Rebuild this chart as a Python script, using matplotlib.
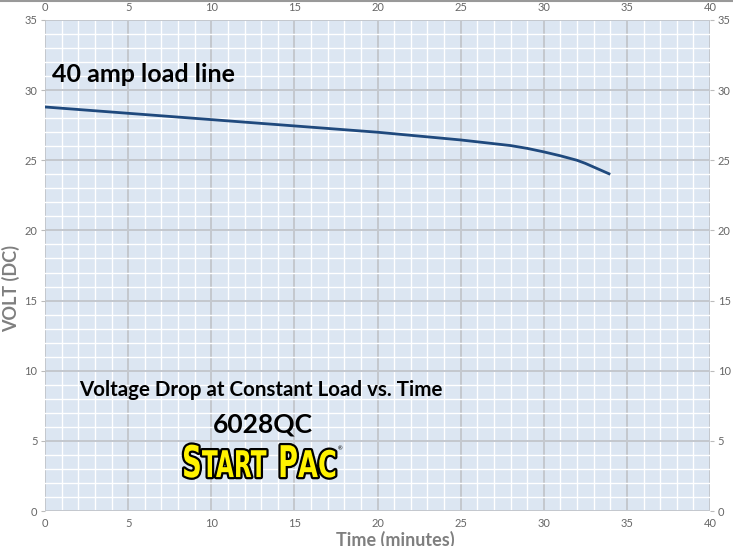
import matplotlib
matplotlib.use("Agg")
import matplotlib.pyplot as plt
import matplotlib.patheffects as pe
from matplotlib.lines import Line2D
from matplotlib.text import Text
from matplotlib.transforms import Affine2D, Bbox
from matplotlib.ticker import MultipleLocator

# data (40 amp load line)
minutes = [0, 5, 10, 15, 20, 25, 28, 29, 30, 31, 32, 32.5, 33, 33.5, 34]
volts = [28.8, 28.35, 27.9, 27.45, 27.0, 26.45, 26.05, 25.85, 25.6, 25.32, 25.0, 24.78,
         24.52, 24.26, 24.0]

plt.rcParams["font.family"] = ["Lato", "DejaVu Sans"]


class Condensed(pe.AbstractPathEffect):
    # squeeze the glyphs sideways and give them a black outline (logo look)
    def __init__(self, sx=0.6, lw=3.0):
        super().__init__()
        self.sx = sx
        self.lw = lw

    def draw_path(self, renderer, gc, tpath, affine, rgbFace=None):
        aff = Affine2D().scale(self.sx, 1.0) + affine
        gc0 = renderer.new_gc()
        gc0.copy_properties(gc)
        gc0.set_linewidth(self.lw)
        gc0.set_foreground("black")
        renderer.draw_path(gc0, tpath, aff, rgbFace)
        gc0.restore()
        renderer.draw_path(gc, tpath, aff, rgbFace)


class LogoText(Text):
    # left-anchored text drawn squeezed; report the squeezed box too
    def __init__(self, *args, sx=0.6, **kw):
        self.sx = sx
        super().__init__(*args, path_effects=[Condensed(sx, 3.2)], **kw)

    def get_window_extent(self, renderer=None, dpi=None):
        bb = super().get_window_extent(renderer, dpi)
        return Bbox.from_extents(bb.x0, bb.y0, bb.x0 + bb.width * self.sx, bb.y1)


fig = plt.figure(figsize=(7.33, 5.46), dpi=100)
ax = fig.add_axes([45 / 733, 1 - 511 / 546, 665 / 733, 491 / 546])
ax.set_facecolor("#DCE6F2")

ax.set_xlim(0, 40)
ax.set_ylim(0, 35)
ax.xaxis.set_major_locator(MultipleLocator(5))
ax.yaxis.set_major_locator(MultipleLocator(5))
ax.xaxis.set_minor_locator(MultipleLocator(1))
ax.yaxis.set_minor_locator(MultipleLocator(1))
ax.grid(which="minor", color="white", linewidth=1.0)
ax.grid(which="major", color="#C4C8CE", linewidth=1.4)
ax.set_axisbelow(True)
for s in ax.spines.values():
    s.set_visible(False)

ax.tick_params(axis="both", which="minor", length=0)
ax.tick_params(axis="x", which="major", length=0, labelsize=8, labelcolor="#666666",
               top=False, labeltop=True, pad=5)
ax.tick_params(axis="y", which="major", length=3, color="#BBBBBB", labelsize=8,
               labelcolor="#666666", right=True, labelright=True, pad=2.5)

ax.plot(minutes, volts, color="#1F497D", linewidth=2.0, solid_capstyle="butt")

ax.text(0.45, 31.1, "40 amp load line", fontsize=18, fontweight="bold", va="center", ha="left")
ax.text(13.0, 8.6, "Voltage Drop at Constant Load vs. Time", fontsize=14.8,
        fontweight="bold", va="center", ha="center")
ax.text(13.1, 6.2, "6028QC", fontsize=19, fontweight="bold", va="center", ha="center")

# StartPac logo as text
logo_kw = dict(fontweight="bold", color="#FFF200", family=["DejaVu Sans"],
               va="baseline", ha="left", transform=ax.transData)
ax.add_artist(LogoText(8.24, 2.42, "S", fontsize=31.5, sx=0.63, **logo_kw))
ax.add_artist(LogoText(9.44, 2.42, "TART", fontsize=26.5, sx=0.63, **logo_kw))
ax.add_artist(LogoText(14.02, 2.42, "P", fontsize=31.5, sx=0.62, **logo_kw))
ax.add_artist(LogoText(15.22, 2.42, "AC", fontsize=26.5, sx=0.7, **logo_kw))
ax.text(17.75, 4.45, "®", fontsize=4, color="black", ha="center", va="center")

fig.text(11 / 733, 1 - 289 / 546, "VOLT (DC)", rotation=90, fontsize=13,
         fontweight="bold", color="#7F7F7F", ha="center", va="center")
fig.text(395 / 733, 1 - 531 / 546, "Time (minutes)", fontsize=13,
         fontweight="bold", color="#7F7F7F", ha="center", va="top")

fig.add_artist(Line2D([0, 1], [1 - 0.5 / 546, 1 - 0.5 / 546], color="#999999", linewidth=1.5))

fig.savefig("out.png", dpi=100)
